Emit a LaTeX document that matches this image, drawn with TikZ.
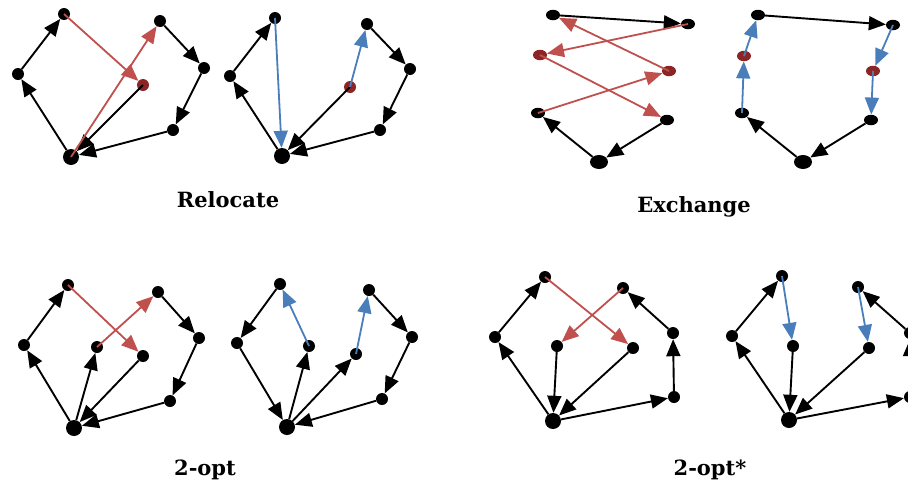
\documentclass[tikz,border=0pt]{standalone}
\usepackage{fontspec}
\setmainfont{DejaVu Serif}
\usetikzlibrary{arrows.meta,shapes.geometric}
\definecolor{rline}{RGB}{192,80,77}
\definecolor{bline}{RGB}{74,126,187}
\definecolor{rnode}{RGB}{140,38,38}
\tikzset{
  dot/.style={circle,fill=black,inner sep=0pt,minimum size=12pt},
  dep/.style={circle,fill=black,inner sep=0pt,minimum size=16pt},
  rdot/.style={circle,fill=rnode,inner sep=0pt,minimum size=12pt},
  edot/.style={ellipse,fill=black,inner sep=0pt,minimum width=14pt,minimum height=10.5pt},
  edep/.style={ellipse,fill=black,inner sep=0pt,minimum width=18pt,minimum height=14pt},
  erdot/.style={ellipse,fill=rnode,inner sep=0pt,minimum width=14pt,minimum height=10.5pt},
  arr/.style={draw=black,line width=1.9pt,-{Triangle[length=17pt,width=14pt]}},
  rarr/.style={draw=rline,line width=1.8pt,-{Triangle[length=17pt,width=14pt]}},
  barr/.style={draw=bline,line width=1.8pt,-{Triangle[length=17pt,width=14pt]}},
  lbl/.style={anchor=base,font=\fontsize{21}{25}\selectfont\bfseries,inner sep=0pt}
}
\begin{document}
\begin{tikzpicture}[x=1pt,y=-1pt]
\useasboundingbox (0,0) rectangle (908,485);
\clip (0,0) rectangle (908,485);
% Panel 1: Relocate (before)
\node[dot] (a1) at (64,14) {};
\node[dot] (b1) at (18,74) {};
\node[dep] (d1) at (71,157) {};
\node[rdot] (r1) at (143,85) {};
\node[dot] (c1) at (160,21) {};
\node[dot] (e1) at (204,68) {};
\node[dot] (f1) at (173,130) {};
\draw[arr] (d1) -- (b1);
\draw[arr] (b1) -- (a1);
\draw[rarr] (a1.center) -- (r1);
\draw[arr] (r1.center) -- (d1);
\draw[rarr] (d1.center) -- (c1);
\draw[arr] (c1) -- (e1);
\draw[arr] (e1) -- (f1);
\draw[arr] (f1) -- (d1);
% Panel 2: Relocate (after)
\node[dot] (a2) at (275,18) {};
\node[dot] (b2) at (230,76) {};
\node[dep] (d2) at (282,156) {};
\node[rdot] (r2) at (350,87) {};
\node[dot] (c2) at (367,24) {};
\node[dot] (e2) at (410,69) {};
\node[dot] (f2) at (380,130) {};
\draw[arr] (d2) -- (b2);
\draw[arr] (b2) -- (a2);
\draw[barr] (a2.center) -- (d2);
\draw[arr] (r2.center) -- (d2);
\draw[barr] (r2.center) -- (c2);
\draw[arr] (c2) -- (e2);
\draw[arr] (e2) -- (f2);
\draw[arr] (f2) -- (d2);
% Panel 3: Exchange (before)
\node[edot] (p31) at (553,15) {};
\node[edot] (p32) at (688,24) {};
\node[erdot] (r31) at (540,55) {};
\node[erdot] (r32) at (669,71) {};
\node[edot] (p33) at (538,113) {};
\node[edot] (p34) at (667,120) {};
\node[edep] (d3) at (599,162) {};
\draw[arr] (p31.center) -- (p32);
\draw[rarr] (p32.center) -- (r31);
\draw[rarr] (r32.center) -- (p31);
\draw[rarr] (r31.center) -- (p34);
\draw[rarr] (p33.center) -- (r32);
\draw[arr] (d3) -- (p33);
\draw[arr] (p34) -- (d3);
% Panel 4: Exchange (after)
\node[edot] (p41) at (758,15) {};
\node[edot] (p42) at (893,25) {};
\node[erdot] (r41) at (744,56) {};
\node[erdot] (r42) at (873,71) {};
\node[edot] (p43) at (742,113) {};
\node[edot] (p44) at (871,120) {};
\node[edep] (d4) at (803,162) {};
\draw[arr] (p41.center) -- (p42);
\draw[barr] (p42.center) -- (r42);
\draw[barr] (r42.center) -- (p44);
\draw[arr] (p44) -- (d4);
\draw[arr] (d4) -- (p43);
\draw[barr] (p43.center) -- (r41);
\draw[barr] (r41.center) -- (p41);
% Panel 5: 2-opt (before)
\node[dot] (a5) at (68,285) {};
\node[dot] (b5) at (24,345) {};
\node[dep] (d5) at (74,428) {};
\node[dot] (m5) at (97,347) {};
\node[dot] (n5) at (143,356) {};
\node[dot] (c5) at (158,292) {};
\node[dot] (e5) at (199,338) {};
\node[dot] (f5) at (170,401) {};
\draw[arr] (d5) -- (b5);
\draw[arr] (b5) -- (a5);
\draw[rarr] (a5.center) -- (n5);
\draw[arr] (n5) -- (d5);
\draw[arr] (d5) -- (m5);
\draw[rarr] (m5.center) -- (c5);
\draw[arr] (c5) -- (e5);
\draw[arr] (e5) -- (f5);
\draw[arr] (f5) -- (d5);
% Panel 6: 2-opt (after)
\node[dot] (a6) at (280,284) {};
\node[dot] (b6) at (237,343) {};
\node[dep] (d6) at (287,427) {};
\node[dot] (m6) at (309,346) {};
\node[dot] (n6) at (356,354) {};
\node[dot] (c6) at (369,290) {};
\node[dot] (e6) at (412,337) {};
\node[dot] (f6) at (382,399) {};
\draw[arr] (a6) -- (b6);
\draw[arr] (b6) -- (d6);
\draw[arr] (d6) -- (m6);
\draw[barr] (m6.center) -- (a6);
\draw[arr] (d6) -- (n6);
\draw[barr] (n6.center) -- (c6);
\draw[arr] (c6) -- (e6);
\draw[arr] (e6) -- (f6);
\draw[arr] (f6) -- (d6);
% Panel 7: 2-opt* (before)
\node[dot] (a7) at (545,277) {};
\node[dot] (b7) at (495,337) {};
\node[dep] (d7) at (553,421) {};
\node[dot] (m7) at (557,346) {};
\node[dot] (n7) at (633,348) {};
\node[dot] (c7) at (623,288) {};
\node[dot] (f7) at (673,333) {};
\node[dot] (g7) at (674,397) {};
\draw[arr] (d7) -- (b7);
\draw[arr] (b7) -- (a7);
\draw[rarr] (a7.center) -- (n7);
\draw[arr] (n7) -- (d7);
\draw[arr] (m7) -- (d7);
\draw[rarr] (c7.center) -- (m7);
\draw[arr] (d7) -- (g7);
\draw[arr] (g7) -- (f7);
\draw[arr] (f7) -- (c7);
% Panel 8: 2-opt* (after)
\node[dot] (a8) at (782,276) {};
\node[dot] (b8) at (732,336) {};
\node[dep] (d8) at (789,420) {};
\node[dot] (m8) at (793,346) {};
\node[dot] (n8) at (869,348) {};
\node[dot] (c8) at (858,287) {};
\node[dot] (f8) at (910,333) {};
\node[dot] (g8) at (910,397) {};
\draw[arr] (d8) -- (b8);
\draw[arr] (b8) -- (a8);
\draw[barr] (a8.center) -- (m8);
\draw[arr] (m8) -- (d8);
\draw[arr] (n8) -- (d8);
\draw[barr] (c8.center) -- (n8);
\draw[arr] (d8) -- (g8);
\draw[arr] (g8) -- (f8);
\draw[arr] (f8) -- (c8);
% Labels
\node[lbl] (t1) at (228,207) {Relocate};
\node[lbl] (t2) at (694,212) {Exchange};
\node[lbl] (t3) at (205,475) {2-opt};
\node[lbl] (t4) at (710,475) {2-opt*};
\end{tikzpicture}
\end{document}
